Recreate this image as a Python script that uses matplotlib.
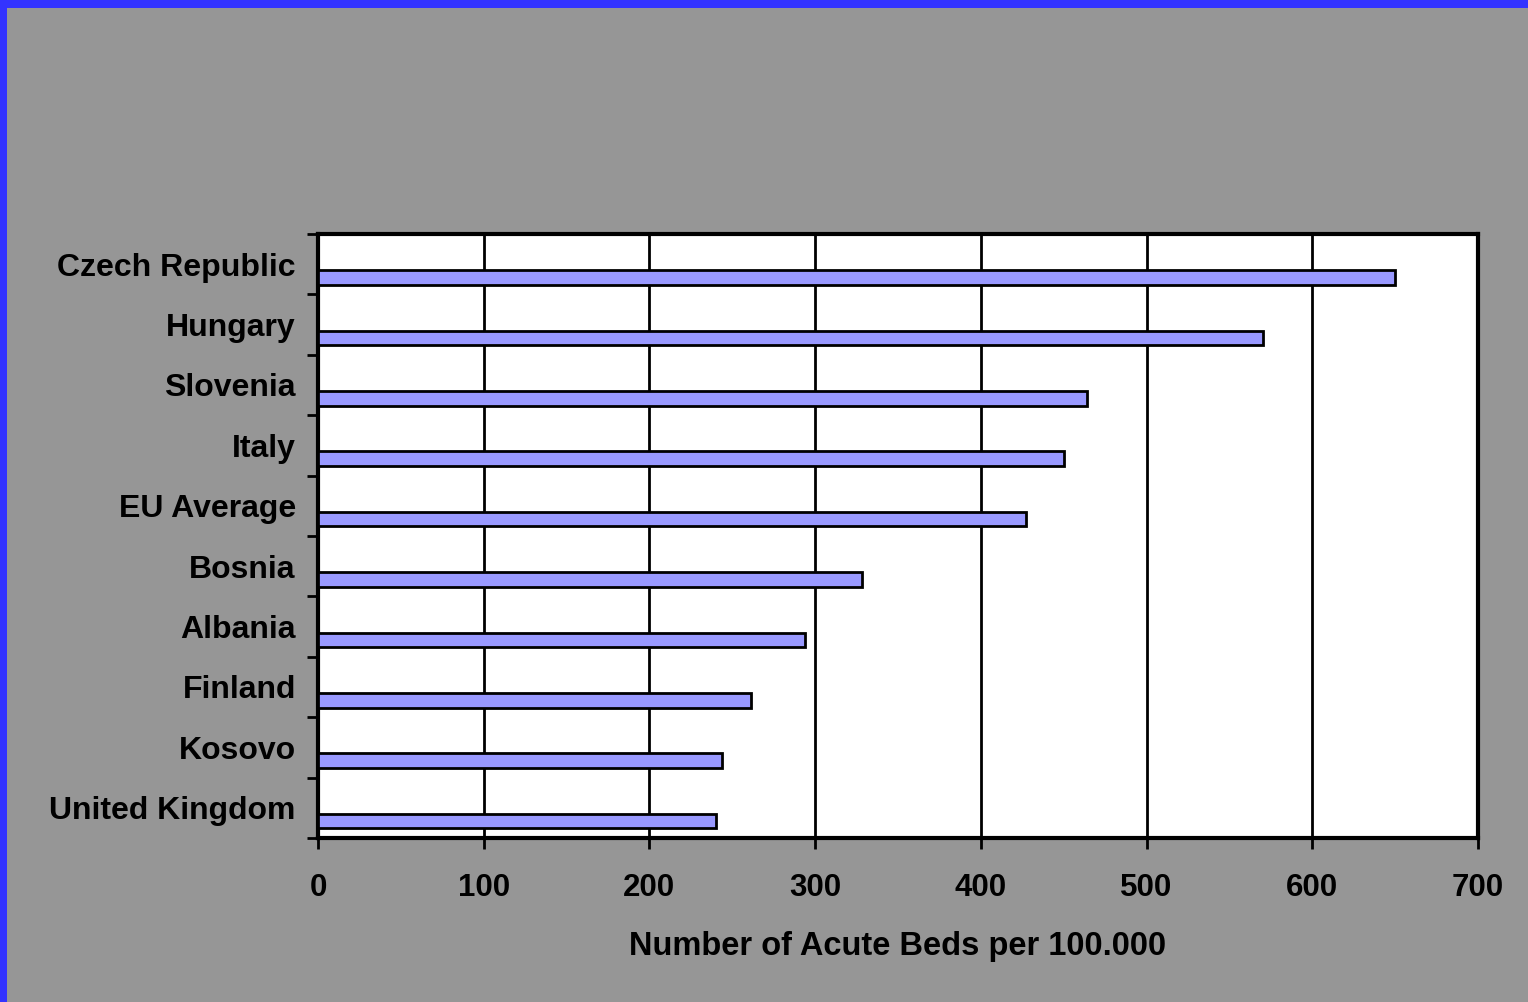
import numpy as np
import matplotlib.pyplot as plt
from matplotlib.patches import Rectangle

countries = ["Czech Republic", "Hungary", "Slovenia", "Italy", "EU Average",
             "Bosnia", "Albania", "Finland", "Kosovo", "United Kingdom"]
beds = [650, 570, 464, 450, 427, 328, 294, 261, 244, 240]
xticks = [0, 100, 200, 300, 400, 500, 600, 700]

plt.rcParams['font.family'] = ['Liberation Sans', 'DejaVu Sans']
plt.rcParams['font.weight'] = 'bold'

fig = plt.figure(figsize=(15.28, 10.02), dpi=100)
fig.patch.set_facecolor('#969696')

# blue frame on the left and top edges
fig.patches.append(Rectangle((0, 0), 7 / 1528, 1, transform=fig.transFigure,
                             facecolor='#3333FF', edgecolor='none', zorder=0))
fig.patches.append(Rectangle((0, 1 - 8 / 1002), 1, 8 / 1002, transform=fig.transFigure,
                             facecolor='#3333FF', edgecolor='none', zorder=0))

ax = fig.add_axes([318 / 1528, 1 - 838 / 1002, 1160 / 1528, 604 / 1002])
ax.set_facecolor('white')

n = len(countries)
centers = np.arange(n) + 0.5
ax.barh(centers + 0.22, beds, height=0.24, color='#9999FF',
        edgecolor='black', linewidth=2, zorder=3)

ax.set_xlim(0, 700)
ax.set_ylim(n, 0)
ax.set_xticks(xticks)
ax.set_xticklabels([str(t) for t in xticks], fontsize=22.5, fontweight='bold')
ax.xaxis.grid(True, color='black', linewidth=2)
ax.set_axisbelow(True)

ax.set_yticks(centers)
ax.set_yticklabels(countries, fontsize=23, fontweight='bold')
ax.set_yticks(np.arange(n + 1), minor=True)
ax.tick_params(axis='y', which='major', length=0, pad=16)
ax.tick_params(axis='y', which='minor', length=8, width=2, direction='out')
ax.tick_params(axis='x', length=8, width=2, direction='out', pad=17)

for s in ax.spines.values():
    s.set_linewidth(3)
    s.set_color('black')

ax.set_xlabel("Number of Acute Beds per 100.000", fontsize=23.5,
              fontweight='bold', labelpad=20)

fig.savefig('out.png', dpi=100, facecolor=fig.get_facecolor())
